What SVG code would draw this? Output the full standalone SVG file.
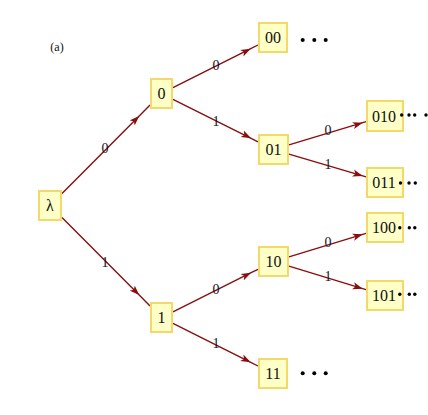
<svg xmlns="http://www.w3.org/2000/svg" width="428" height="415" viewBox="0 0 428 415">
<style>
.box{fill:#ffffc8;stroke:#f2d96a;stroke-width:2}
.bt{font-size:16px;fill:#111;text-anchor:middle}
.el{font-size:14px;fill:#14142a;text-anchor:middle}
.edge{fill:none;stroke:#8b0d0d;stroke-width:1.4;marker-mid:url(#ah)}
.dot{fill:#000}
</style>
<defs>
<marker id="ah" viewBox="0 0 10 8" refX="10" refY="4" markerWidth="10" markerHeight="8" markerUnits="userSpaceOnUse" orient="auto">
<path d="M0,0.4 L10,4 L0,7.6 L2.5,4 Z" fill="#8b0d0d"/>
</marker>
</defs>
<rect width="428" height="415" fill="#fff"/>
<g font-family="'Liberation Serif', 'Times New Roman', serif">
<text x="57" y="51" font-size="12" text-anchor="middle" fill="#111">(a)</text>
<g id="connectors">
<path class="edge" d="M62,193.5 L139.2,115.9 L150,105"/>
<path class="edge" d="M62,217.5 L139.2,295.1 L150,306"/>
<path class="edge" d="M173,87.7 L250.7,48.7 L258,45"/>
<path class="edge" d="M173,99.3 L251.1,138.3 L258,141.8"/>
<path class="edge" d="M173,311.8 L251.1,272.7 L258,269.3"/>
<path class="edge" d="M173,323.3 L250.7,362.3 L258,366"/>
<path class="edge" d="M289,144.8 L362.7,122.7 L366,121.7"/>
<path class="edge" d="M289,154.1 L362.7,175.9 L366,176.9"/>
<path class="edge" d="M289,256.8 L362.7,234.3 L366,233.3"/>
<path class="edge" d="M289,266.2 L362.7,288.7 L366,289.7"/>
<text class="el" x="105" y="153">0</text>
<text class="el" x="105" y="267">1</text>
<text class="el" x="216" y="70">0</text>
<text class="el" x="216" y="126">1</text>
<text class="el" x="216" y="294">0</text>
<text class="el" x="216" y="348">1</text>
<text class="el" x="328" y="135">0</text>
<text class="el" x="328" y="169">1</text>
<text class="el" x="328" y="247">0</text>
<text class="el" x="328" y="281">1</text>
</g>
<g id="n-lambda"><rect class="box" x="39" y="191" width="22" height="29"/><text class="bt" x="50" y="211">λ</text></g>
<g id="n-0"><rect class="box" x="151" y="79" width="21" height="29"/><text class="bt" x="161.5" y="99">0</text></g>
<g id="n-1"><rect class="box" x="151" y="303" width="21" height="29"/><text class="bt" x="161.5" y="323">1</text></g>
<g id="n-00"><rect class="box" x="259" y="23" width="28" height="29"/><text class="bt" x="273" y="43">00</text>
<circle class="dot" cx="302.7" cy="40" r="2"/><circle class="dot" cx="314.3" cy="40" r="2"/><circle class="dot" cx="325.7" cy="40" r="2"/></g>
<g id="n-01"><rect class="box" x="259" y="135" width="29" height="29"/><text class="bt" x="273.5" y="155">01</text></g>
<g id="n-10"><rect class="box" x="259" y="247" width="29" height="29"/><text class="bt" x="273.5" y="267">10</text></g>
<g id="n-11"><rect class="box" x="259" y="359" width="28" height="29"/><text class="bt" x="273" y="379">11</text>
<circle class="dot" cx="302.7" cy="373.3" r="2"/><circle class="dot" cx="314.3" cy="373.3" r="2"/><circle class="dot" cx="325.7" cy="373.3" r="2"/></g>
<g id="n-010"><rect class="box" x="367" y="101" width="36" height="30"/><text class="bt" x="384" y="121.5">010</text>
<circle class="dot" cx="401.7" cy="115" r="1.7"/><circle class="dot" cx="409" cy="115" r="1.7"/><circle class="dot" cx="414.7" cy="115" r="1.7"/><circle class="dot" cx="426" cy="115" r="1.7"/></g>
<g id="n-011"><rect class="box" x="367" y="168" width="36" height="29"/><text class="bt" x="384" y="188">011</text>
<circle class="dot" cx="400.5" cy="183" r="1.7"/><circle class="dot" cx="409" cy="183" r="1.7"/><circle class="dot" cx="415.3" cy="183" r="1.7"/></g>
<g id="n-100"><rect class="box" x="367" y="213" width="36" height="29"/><text class="bt" x="384" y="233">100</text>
<circle class="dot" cx="399.8" cy="227.7" r="1.7"/><circle class="dot" cx="409.3" cy="227.7" r="1.7"/><circle class="dot" cx="414.8" cy="227.7" r="1.7"/></g>
<g id="n-101"><rect class="box" x="367" y="281" width="36" height="29"/><text class="bt" x="384" y="301">101</text>
<circle class="dot" cx="399.8" cy="294.3" r="1.7"/><circle class="dot" cx="409.3" cy="294.3" r="1.7"/><circle class="dot" cx="414.8" cy="294.3" r="1.7"/></g>
</g>
</svg>
